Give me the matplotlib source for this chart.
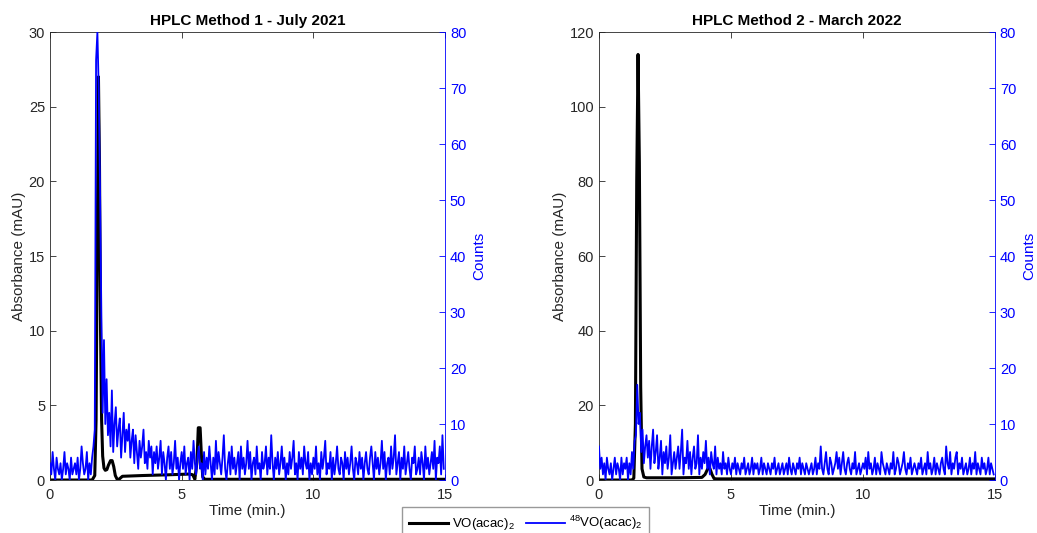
import matplotlib
matplotlib.use("Agg")
import matplotlib.pyplot as plt
import numpy as np

plt.rcParams['font.family'] = ['Liberation Sans', 'DejaVu Sans']
plt.rcParams['mathtext.fontset'] = 'custom'
plt.rcParams['mathtext.rm'] = 'Liberation Sans'
plt.rcParams['mathtext.it'] = 'Liberation Sans'

# absorbance traces (time, mAU)
abs1_t = [0, 1.60, 1.70, 1.75, 1.80, 1.84, 1.88, 1.92, 1.96, 2.00, 2.05, 2.10, 2.16, 2.22, 2.30,
          2.36, 2.42, 2.48, 2.55, 2.62, 2.75, 3.5, 4.5, 5.3, 5.42, 5.50, 5.58, 5.63, 5.70, 5.75,
          5.80, 5.88, 6.0, 15]
abs1_y = [0, 0, 0.3, 4, 17, 27, 21, 10, 4, 1.6, 0.8, 0.65, 0.7, 1.0, 1.3,
          1.3, 0.9, 0.3, 0.05, 0.05, 0.25, 0.3, 0.35, 0.4, 0.35, 0.05, 1.2, 3.5, 3.5, 1.6,
          0.2, 0.05, 0.05, 0.05]

abs2_t = [0, 1.25, 1.32, 1.38, 1.43, 1.48, 1.53, 1.58, 1.63, 1.70, 1.80, 2.0, 3.0, 3.9,
          4.02, 4.12, 4.20, 4.28, 4.36, 4.45, 4.6, 15]
abs2_y = [0, 0, 0.5, 15, 80, 114, 85, 25, 3, 0.8, 0.6, 0.6, 0.6, 0.7,
          1.5, 3.0, 3.1, 1.5, 0.4, 0.3, 0.3, 0.3]

# 48V counts, one value per 0.05 min
counts1 = [3, 1, 5, 2, 0, 4, 2, 1, 3, 0, 2, 5, 1, 3, 2, 0, 4, 1, 2, 3,
           1, 4, 0, 2, 6, 3, 1, 2, 5, 0, 3, 1, 4, 6, 9, 75, 80, 70, 52, 30,
           12, 25, 10, 18, 8, 12, 6, 16, 5, 10, 13, 6, 9, 11, 4, 8, 12, 5, 9, 7,
           10, 4, 7, 9, 3, 8, 5, 2, 7, 4, 6, 9, 3, 5, 2, 7, 4, 6, 1, 5,
           3, 6, 2, 4, 7, 1, 5, 3, 0, 4, 6, 2, 5, 1, 3, 7, 2, 4, 0, 3,
           5, 2, 6, 1, 3, 4, 0, 5, 2, 7, 3, 1, 4, 6, 2, 3, 0, 5, 1, 4,
           2, 6, 3, 0, 4, 1, 7, 2, 5, 3, 1, 4, 8, 2, 0, 3, 5, 1, 6, 2,
           4, 1, 3, 5, 0, 6, 2, 4, 1, 3, 7, 2, 5, 0, 3, 4, 1, 6, 2, 3,
           0, 5, 2, 3, 6, 1, 4, 2, 8, 3, 0, 4, 2, 5, 1, 3, 6, 2, 4, 0,
           3, 1, 5, 2, 4, 7, 1, 3, 0, 5, 2, 4, 1, 6, 3, 2, 5, 0, 3, 1,
           4, 2, 6, 1, 3, 0, 5, 2, 4, 7, 1, 3, 2, 5, 0, 4, 1, 3, 6, 2,
           1, 4, 3, 0, 5, 2, 4, 1, 3, 6, 2, 0, 4, 3, 1, 5, 2, 4, 0, 3,
           5, 2, 1, 4, 6, 3, 0, 5, 2, 4, 1, 3, 7, 2, 5, 0, 3, 4, 1, 6,
           2, 4, 8, 1, 3, 5, 0, 4, 2, 6, 1, 3, 5, 2, 0, 4, 3, 6, 1, 2,
           4, 1, 5, 3, 0, 6, 2, 4, 1, 3, 5, 2, 7, 0, 4, 3, 6, 1, 8, 2]

counts2 = [6, 2, 4, 1, 3, 0, 4, 2, 1, 3, 0, 2, 4, 1, 3, 2, 0, 4, 1, 3,
           2, 4, 0, 3, 1, 5, 2, 7, 8, 17, 10, 12, 5, 9, 3, 6, 8, 4, 7, 2,
           6, 9, 3, 5, 8, 2, 4, 7, 1, 5, 3, 6, 2, 4, 8, 1, 3, 5, 2, 4,
           6, 2, 5, 9, 1, 4, 3, 7, 2, 5, 1, 4, 6, 2, 3, 8, 1, 4, 2, 5,
           3, 7, 2, 4, 1, 5, 3, 2, 6, 1, 4, 2, 3, 1, 5, 2, 3, 1, 4, 2,
           1, 3, 2, 4, 1, 3, 2, 1, 3, 2, 4, 1, 2, 3, 1, 2, 4, 1, 3, 2,
           3, 1, 2, 4, 1, 3, 2, 1, 3, 2, 1, 3, 2, 4, 1, 2, 3, 1, 2, 3,
           1, 2, 3, 1, 4, 2, 1, 3, 2, 1, 3, 2, 4, 1, 3, 2, 1, 3, 2, 1,
           2, 3, 1, 2, 4, 1, 3, 2, 6, 2, 1, 3, 5, 2, 1, 4, 3, 1, 2, 3,
           5, 2, 4, 1, 3, 5, 2, 1, 3, 4, 2, 1, 3, 2, 5, 1, 2, 3, 1, 2,
           3, 2, 4, 1, 5, 2, 3, 1, 2, 4, 1, 3, 2, 1, 5, 3, 2, 1, 3, 2,
           1, 3, 2, 5, 1, 2, 4, 3, 1, 2, 3, 5, 2, 1, 3, 2, 4, 1, 2, 3,
           2, 1, 3, 2, 4, 1, 2, 3, 1, 5, 2, 3, 1, 2, 4, 1, 3, 2, 1, 3,
           4, 2, 1, 6, 3, 2, 5, 1, 3, 2, 4, 5, 1, 3, 2, 4, 1, 2, 3, 1,
           2, 4, 1, 3, 2, 5, 1, 3, 2, 1, 4, 2, 3, 1, 2, 4, 1, 3, 2, 1]
counts_t = np.arange(len(counts1)) * 0.05

titles = ["HPLC Method 1 - July 2021", "HPLC Method 2 - March 2022"]
abs_lims = [(0, 30, 5), (0, 120, 20)]

fig = plt.figure(figsize=(10.37, 5.33), dpi=100)
ax_pos = [[0.0482, 0.0994, 0.381, 0.8405], [0.5776, 0.0994, 0.3819, 0.8405]]
grey = '#262626'
blue = '#0000ff'

panels = [(abs1_t, abs1_y, counts1), (abs2_t, abs2_y, counts2)]
for k, (at, ay, cc) in enumerate(panels):
    ax = fig.add_axes(ax_pos[k])
    ax2 = ax.twinx()
    lk, = ax.plot(at, ay, color='black', lw=2.2)
    lb, = ax2.plot(counts_t, cc, color=blue, lw=1.3)

    ax.set_xlim(0, 15)
    ax.set_xticks([0, 5, 10, 15])
    lo, hi, st = abs_lims[k]
    ax.set_ylim(lo, hi)
    ax.set_yticks(np.arange(lo, hi + 1, st))
    ax2.set_ylim(0, 80)
    ax2.set_yticks(np.arange(0, 81, 10))

    ax.tick_params(direction='in', top=True, right=False, length=4, labelsize=10.5,
                   colors=grey, width=0.6)
    ax.tick_params(axis='x', pad=6)
    ax2.tick_params(axis='y', direction='in', length=4, labelsize=10.5, colors=blue, width=0.6)
    for s in ['left', 'bottom', 'top']:
        ax.spines[s].set_color(grey)
        ax.spines[s].set_linewidth(0.6)
    ax.spines['right'].set_visible(False)
    for s in ['left', 'bottom', 'top']:
        ax2.spines[s].set_visible(False)
    ax2.spines['right'].set_color(blue)
    ax2.spines['right'].set_linewidth(0.6)

    ax.set_xlabel("Time (min.)", fontsize=11, color=grey, labelpad=1)
    ax.set_ylabel("Absorbance (mAU)", fontsize=11, color=grey, labelpad=2)
    ax2.set_ylabel("Counts", fontsize=11, color=blue, labelpad=4)
    ax.set_title(titles[k], fontsize=11, fontweight='bold', pad=5)

fig.legend([lk, lb], ['VO(acac)$_2$', '$^{48}$VO(acac)$_2$'], ncol=2, loc='upper center',
           bbox_to_anchor=(0.507, 0.049), fontsize=9.5, fancybox=False, edgecolor='#999999',
           framealpha=1, handlelength=2.9, columnspacing=0.9, borderpad=0.55,
           borderaxespad=0, handletextpad=0.3)

fig.savefig("out.png", dpi=100)
